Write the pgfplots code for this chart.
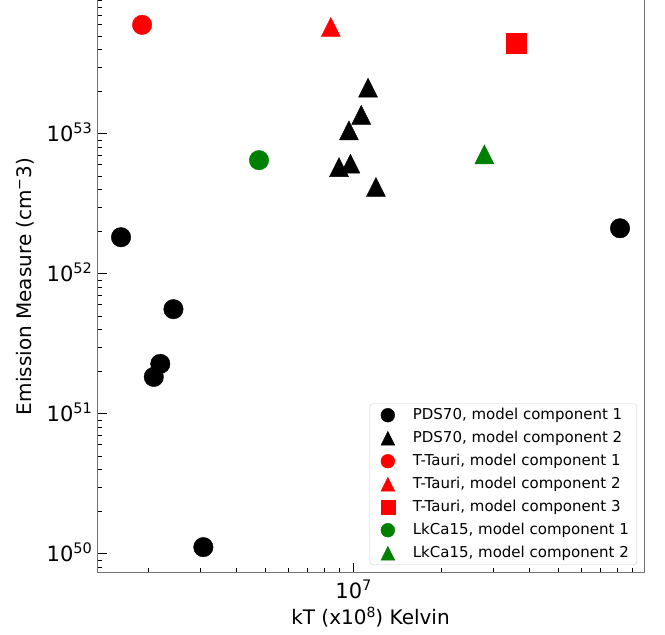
\documentclass[border=0pt]{standalone}
\usepackage{pgfplots}
\pgfplotsset{compat=1.18}
\usepackage{fontspec}
\setmainfont{DejaVu Sans}
\definecolor{mplgreen}{RGB}{0,128,0}
\newcommand{\sups}[1]{\raisebox{8bp}{\fontsize{14.5bp}{15bp}\selectfont #1}}
\newcommand{\supl}[1]{\raisebox{7.5bp}{\fontsize{14bp}{15bp}\selectfont #1}}
\pgfdeclareplotmark{mpltri}{%
  \pgfpathmoveto{\pgfqpoint{0pt}{\pgfplotmarksize}}%
  \pgfpathlineto{\pgfqpoint{-\pgfplotmarksize}{-\pgfplotmarksize}}%
  \pgfpathlineto{\pgfqpoint{\pgfplotmarksize}{-\pgfplotmarksize}}%
  \pgfpathclose\pgfusepathqfillstroke}
\begin{document}
\begin{tikzpicture}
\begin{axis}[
  xmode=log, ymode=log,
  scale only axis, width=547bp, height=573bp,
  xmin=1.334e6, xmax=9.817e7,
  ymin=7.31e49, ymax=9.06e53,
  xtick={1e7}, xticklabels={10\sups{7}},
  ytick={1e50,1e51,1e52,1e53},
  yticklabels={10\sups{50},10\sups{51},10\sups{52},10\sups{53}},
  minor xtick={2e6,3e6,4e6,5e6,6e6,7e6,8e6,9e6,2e7,3e7,4e7,5e7,6e7,7e7,8e7,9e7},
  minor ytick={8e49,9e49,2e50,3e50,4e50,5e50,6e50,7e50,8e50,9e50,2e51,3e51,4e51,5e51,6e51,7e51,8e51,9e51,2e52,3e52,4e52,5e52,6e52,7e52,8e52,9e52,2e53,3e53,4e53,5e53,6e53,7e53,8e53,9e53},
  tick pos=left, tick align=inside,
  major tick length=10bp, minor tick length=5bp,
  major tick style={black, line width=1.2bp},
  minor tick style={black, line width=1bp},
  axis line style={black!55, line width=1bp},
  ticklabel style={font=\fontsize{21bp}{25bp}\selectfont},
  yticklabel style={anchor=base east, inner sep=0pt, xshift=-5bp, yshift=-7.6bp},
  xticklabel style={anchor=base, inner sep=0pt, yshift=-26bp},
  label style={font=\fontsize{20bp}{24bp}\selectfont},
  xlabel={kT (x10\supl{8}) Kelvin},
  ylabel={Emission Measure (cm\supl{−}3)},
  xlabel style={at={(axis description cs:0.5,0)}, anchor=base, inner sep=0pt, yshift=-52bp},
  ylabel style={at={(axis description cs:0,0.5)}, anchor=base, inner sep=0pt, yshift=65.3bp},
  legend style={at={(1,0)}, anchor=south east, xshift=-7bp, yshift=8bp,
    draw=black!20, rounded corners=3bp, fill=white, fill opacity=0.8, text opacity=1,
    font=\fontsize{15bp}{18bp}\selectfont, inner xsep=6bp, inner ysep=2bp,
    row sep=4bp, column sep=11bp,
    nodes={inner sep=2bp, text height=11.4bp, text depth=3.6bp}},
  legend cell align=left,
  legend image code/.code={\path[draw=none, fill=none] (0bp,-5bp) rectangle (24bp,5bp);
    \draw[#1, mark size=6.9bp, opacity=1] plot coordinates {(12bp,0bp)};},
]
\addplot[only marks, mark=*, mark size=9.75bp, draw=black, fill=black] coordinates {
 (1.611e6,1.828e52) (2.432e6,5.598e51) (2.193e6,2.275e51) (2.084e6,1.837e51) (3.076e6,1.117e50) (8.128e7,2.118e52)};
\addlegendentry{PDS70, model component 1}
\addplot[only marks, mark=mpltri, mark size=9.5bp, draw=black, fill=black] coordinates {
 (1.122e7,2.138e53) (1.064e7,1.368e53) (9.66e6,1.059e53) (8.93e6,5.79e52) (9.77e6,6.12e52) (1.194e7,4.18e52)};
\addlegendentry{PDS70, model component 2}
\addplot[only marks, mark=*, mark size=9.75bp, draw=red, fill=red] coordinates {(1.901e6,6.01e53)};
\addlegendentry{T-Tauri, model component 1}
\addplot[only marks, mark=mpltri, mark size=9.5bp, draw=red, fill=red] coordinates {(8.375e6,5.81e53)};
\addlegendentry{T-Tauri, model component 2}
\addplot[only marks, mark=square*, mark size=10bp, draw=red, fill=red] coordinates {(3.597e7,4.45e53)};
\addlegendentry{T-Tauri, model component 3}
\addplot[only marks, mark=*, mark size=9.75bp, draw=mplgreen, fill=mplgreen] coordinates {(4.764e6,6.49e52)};
\addlegendentry{LkCa15, model component 1}
\addplot[only marks, mark=mpltri, mark size=9.5bp, draw=mplgreen, fill=mplgreen] coordinates {(2.80e7,7.14e52)};
\addlegendentry{LkCa15, model component 2}
\end{axis}
\pgfresetboundingbox
\path[use as bounding box] (current axis.south west) ++(-97bp,-62bp) rectangle ++(665bp,635bp);
\end{tikzpicture}
\end{document}
